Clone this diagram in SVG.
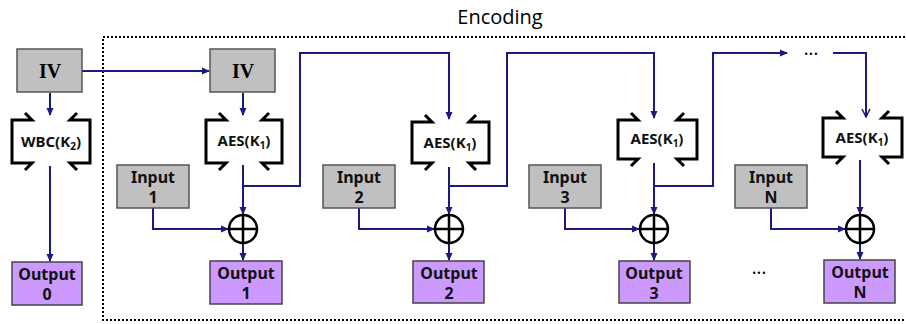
<svg xmlns="http://www.w3.org/2000/svg" width="906" height="324" viewBox="0 0 906 324">
  <defs>
    <style>
      .frame { fill: none; stroke: #000; stroke-width: 2; stroke-dasharray: 2 2; }
      .title { font-family: "Open Sans", "Noto Sans", sans-serif; font-size: 20px; fill: #000; }
      .iv { fill: #c0c0c0; stroke: #555; stroke-width: 1.5; }
      .ivtxt { font-family: "Liberation Serif", serif; font-weight: bold; font-size: 20px; fill: #000; }
      .inbox { fill: #c0c0c0; stroke: #555; stroke-width: 1.5; }
      .outbox { fill: #cc99ff; stroke: #444; stroke-width: 1.5; }
      .lbl { font-family: "Noto Sans", "Open Sans", sans-serif; font-weight: bold; font-size: 16px; fill: #111; }
      .fn { font-family: "Noto Sans", "Open Sans", sans-serif; font-weight: bold; font-size: 15px; fill: #111; }
      .sub { font-size: 10px; }
      .brk { fill: none; stroke: #000; stroke-width: 3; stroke-linejoin: miter; }
      .wire { fill: none; stroke: #1a1a80; stroke-width: 2; }
      .xor { fill: #fff; stroke: #000; stroke-width: 2.5; }
      .dots { font-family: "Noto Sans", sans-serif; font-size: 18px; fill: #000; }
    </style>
    <marker id="ah" viewBox="0 0 8 8" refX="7" refY="4" markerWidth="8" markerHeight="8" markerUnits="userSpaceOnUse" orient="auto">
      <path d="M0,0.5 L8,4 L0,7.5 Z" fill="#1a1a80"/>
    </marker>
    <marker id="ahOpen" viewBox="0 0 10 10" refX="9" refY="5" markerWidth="10" markerHeight="10" markerUnits="userSpaceOnUse" orient="auto">
      <path d="M1,1 L9,5 L1,9" fill="none" stroke="#1a1a80" stroke-width="1.5"/>
    </marker>
  </defs>

  <rect width="906" height="324" fill="#fff"/>

  <!-- encoding frame -->
  <path class="frame" d="M905,37 H103 V320 H905"/>
  <text class="title" x="500" y="24" text-anchor="middle">Encoding</text>

  <!-- connectors -->
  <g id="connectors">
    <!-- initial IV path -->
    <path class="wire" d="M50,93 V115" marker-end="url(#ah)"/>
    <path class="wire" d="M82,71 H209" marker-end="url(#ah)"/>
    <path class="wire" d="M50,166 V261" marker-end="url(#ah)"/>
    <path class="wire" d="M243,93 V115" marker-end="url(#ah)"/>

    <!-- stage 1 -->
    <path class="wire" d="M243,165 V214" marker-end="url(#ah)"/>
    <path class="wire" d="M153,208 V229 H228" marker-end="url(#ah)"/>
    <path class="wire" d="M243,244 V260" marker-end="url(#ah)"/>
    <path class="wire" d="M243,186 H300 V53 H449 V119" marker-end="url(#ah)"/>

    <!-- stage 2 -->
    <path class="wire" d="M449,167 V214" marker-end="url(#ah)"/>
    <path class="wire" d="M359,208 V229 H434" marker-end="url(#ah)"/>
    <path class="wire" d="M449,244 V260" marker-end="url(#ah)"/>
    <path class="wire" d="M449,186 H507 V53 H654 V118" marker-end="url(#ah)"/>

    <!-- stage 3 -->
    <path class="wire" d="M654,163 V214" marker-end="url(#ah)"/>
    <path class="wire" d="M565,208 V229 H639" marker-end="url(#ah)"/>
    <path class="wire" d="M654,244 V260" marker-end="url(#ah)"/>
    <path class="wire" d="M654,186 H713 V53 H787" marker-end="url(#ah)"/>

    <!-- stage N -->
    <path class="wire" d="M833,53 H866 V117" marker-end="url(#ahOpen)"/>
    <path class="wire" d="M860,160 V214" marker-end="url(#ah)"/>
    <path class="wire" d="M771,208 V229 H845" marker-end="url(#ah)"/>
    <path class="wire" d="M860,244 V259" marker-end="url(#ah)"/>
  </g>

  <!-- IV nodes -->
  <g id="iv0">
    <rect class="iv" x="17" y="49" width="65" height="43"/>
    <text class="ivtxt" x="50" y="78" text-anchor="middle">IV</text>
  </g>
  <g id="iv1">
    <rect class="iv" x="210" y="49" width="65" height="43"/>
    <text class="ivtxt" x="243" y="78" text-anchor="middle">IV</text>
  </g>

  <!-- WBC -->
  <g id="wbc">
    <path class="brk" d="M25,113 L32,120 H12 V163 H32 L25,170"/>
    <path class="brk" d="M77,113 L70,120 H90 V163 H70 L77,170"/>
    <text class="fn" x="51" y="147" text-anchor="middle">WBC(K<tspan class="sub" dy="3">2</tspan><tspan dy="-3">)</tspan></text>
  </g>

  <!-- AES blocks -->
  <g id="aes1">
    <path class="brk" d="M219,113 L226,120 H206 V163 H226 L219,170"/>
    <path class="brk" d="M269,113 L262,120 H282 V163 H262 L269,170"/>
    <text class="fn" x="244" y="146" text-anchor="middle">AES(K<tspan class="sub" dy="3">1</tspan><tspan dy="-3">)</tspan></text>
  </g>
  <g id="aes2">
    <path class="brk" d="M425,115 L432,122 H412 V163 H432 L425,170"/>
    <path class="brk" d="M476,115 L469,122 H489 V163 H469 L476,170"/>
    <text class="fn" x="450" y="148" text-anchor="middle">AES(K<tspan class="sub" dy="3">1</tspan><tspan dy="-3">)</tspan></text>
  </g>
  <g id="aes3">
    <path class="brk" d="M631,113 L638,120 H618 V159 H638 L631,166"/>
    <path class="brk" d="M684,113 L677,120 H697 V159 H677 L684,166"/>
    <text class="fn" x="657" y="144" text-anchor="middle">AES(K<tspan class="sub" dy="3">1</tspan><tspan dy="-3">)</tspan></text>
  </g>
  <g id="aesN">
    <path class="brk" d="M836,111 L843,118 H823 V157 H843 L836,164"/>
    <path class="brk" d="M889,111 L882,118 H902 V157 H882 L889,164"/>
    <text class="fn" x="862" y="143" text-anchor="middle">AES(K<tspan class="sub" dy="3">1</tspan><tspan dy="-3">)</tspan></text>
  </g>

  <!-- inputs -->
  <g id="input1">
    <rect class="inbox" x="117" y="165" width="72" height="43"/>
    <text class="lbl" x="153" y="183" text-anchor="middle">Input</text>
    <text class="lbl" x="153" y="203" text-anchor="middle">1</text>
  </g>
  <g id="input2">
    <rect class="inbox" x="323" y="165" width="72" height="43"/>
    <text class="lbl" x="359" y="183" text-anchor="middle">Input</text>
    <text class="lbl" x="359" y="203" text-anchor="middle">2</text>
  </g>
  <g id="input3">
    <rect class="inbox" x="529" y="165" width="72" height="43"/>
    <text class="lbl" x="565" y="183" text-anchor="middle">Input</text>
    <text class="lbl" x="565" y="203" text-anchor="middle">3</text>
  </g>
  <g id="inputN">
    <rect class="inbox" x="735" y="165" width="72" height="43"/>
    <text class="lbl" x="771" y="183" text-anchor="middle">Input</text>
    <text class="lbl" x="771" y="203" text-anchor="middle">N</text>
  </g>

  <!-- XOR gates -->
  <g id="xor1">
    <circle class="xor" cx="243" cy="229" r="14"/>
    <path class="xor" d="M229,229 H257 M243,215 V243"/>
  </g>
  <g id="xor2">
    <circle class="xor" cx="449" cy="229" r="14"/>
    <path class="xor" d="M435,229 H463 M449,215 V243"/>
  </g>
  <g id="xor3">
    <circle class="xor" cx="654" cy="229" r="14"/>
    <path class="xor" d="M640,229 H668 M654,215 V243"/>
  </g>
  <g id="xorN">
    <circle class="xor" cx="860" cy="229" r="14"/>
    <path class="xor" d="M846,229 H874 M860,215 V243"/>
  </g>

  <!-- outputs -->
  <g id="output0">
    <rect class="outbox" x="12" y="262" width="70" height="43"/>
    <text class="lbl" x="47" y="280" text-anchor="middle">Output</text>
    <text class="lbl" x="47" y="300" text-anchor="middle">0</text>
  </g>
  <g id="output1">
    <rect class="outbox" x="210" y="261" width="72" height="43"/>
    <text class="lbl" x="246" y="279" text-anchor="middle">Output</text>
    <text class="lbl" x="246" y="299" text-anchor="middle">1</text>
  </g>
  <g id="output2">
    <rect class="outbox" x="413" y="261" width="71" height="42"/>
    <text class="lbl" x="449" y="279" text-anchor="middle">Output</text>
    <text class="lbl" x="449" y="299" text-anchor="middle">2</text>
  </g>
  <g id="output3">
    <rect class="outbox" x="619" y="261" width="71" height="42"/>
    <text class="lbl" x="654" y="279" text-anchor="middle">Output</text>
    <text class="lbl" x="654" y="299" text-anchor="middle">3</text>
  </g>
  <g id="outputN">
    <rect class="outbox" x="824" y="260" width="71" height="43"/>
    <text class="lbl" x="860" y="278" text-anchor="middle">Output</text>
    <text class="lbl" x="860" y="298" text-anchor="middle">N</text>
  </g>

  <!-- ellipses -->
  <text class="dots" x="811" y="60" text-anchor="middle">···</text>
  <text class="dots" x="759" y="279" text-anchor="middle">···</text>
</svg>
